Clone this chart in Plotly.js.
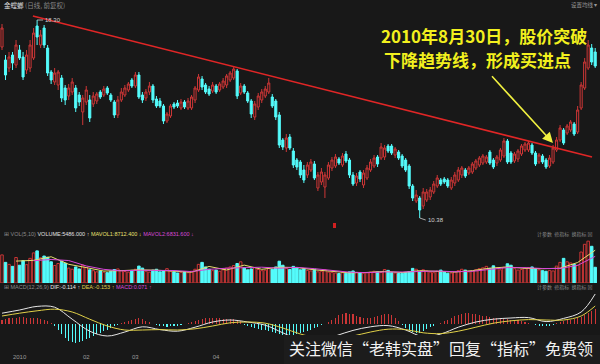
<!DOCTYPE html>
<html><head><meta charset="utf-8">
<script src="https://cdn.plot.ly/plotly-3.0.1.min.js"></script>
<style>html,body{margin:0;padding:0;background:#181818;}#chart{width:600px;height:364px;}</style>
</head><body><div id="chart"></div>
<script>
const openP = [17.22,16.70,16.38,16.90,16.50,17.10,16.82,16.30,16.38,16.78,
18.06,17.30,17.98,17.18,16.22,15.82,15.70,15.98,15.58,15.26,
15.42,15.58,15.30,14.62,15.02,15.10,14.94,15.06,15.42,15.30,
15.58,15.30,15.02,14.50,15.10,15.30,15.50,15.90,15.66,16.10,
15.30,15.18,15.42,15.66,15.14,15.06,14.86,14.26,14.46,14.94,
14.98,14.78,15.02,14.78,14.78,15.10,15.50,15.94,15.70,15.54,
15.46,15.66,15.50,15.62,15.70,15.90,15.98,16.26,15.38,15.66,
15.38,15.06,14.42,14.82,15.10,15.26,15.42,15.22,15.06,14.50,
13.50,13.18,13.62,13.06,12.70,12.62,12.30,12.10,12.30,12.54,
11.58,11.82,11.62,11.98,12.38,12.46,12.74,12.50,12.94,12.70,
12.10,11.78,12.22,11.70,11.98,12.30,12.46,12.82,12.78,12.82,
13.26,13.26,12.90,13.02,12.86,12.70,12.46,11.66,11.06,11.18,
10.86,11.10,11.22,11.42,11.66,11.90,11.94,11.90,11.58,11.78,
11.90,12.10,12.30,12.18,12.22,12.38,12.50,12.58,12.62,13.02,
12.70,12.58,12.70,12.86,13.46,12.98,12.66,12.74,12.94,13.10,
13.10,13.30,12.98,12.62,12.86,12.70,12.46,12.62,13.10,13.50,
13.90,13.78,13.90,14.14,13.82,14.78,15.58,16.38,17.18,17.02];
const highP = [18.14,16.90,17.02,17.02,17.50,17.30,17.02,17.10,17.50,17.98,
18.30,17.90,18.10,17.30,16.30,16.38,16.30,16.10,15.70,15.74,
15.98,15.70,15.42,15.30,15.66,15.30,15.42,15.42,15.50,15.66,
15.66,15.38,15.10,15.26,15.58,15.70,15.82,15.98,16.22,16.22,
15.42,15.54,15.82,15.74,15.26,15.18,14.94,14.62,14.94,15.02,
15.10,15.14,15.10,15.18,15.30,15.66,16.14,16.06,15.78,15.66,
15.82,15.74,15.82,15.98,16.14,16.26,16.46,16.34,15.78,15.74,
15.46,15.14,15.06,15.38,15.54,15.66,15.98,15.34,15.14,14.62,
13.58,13.74,13.74,13.18,12.78,12.70,12.50,12.62,12.74,12.66,
12.22,12.38,12.22,12.62,12.82,12.94,12.82,12.98,13.06,12.78,
12.22,12.18,12.30,12.30,12.50,12.74,12.90,12.90,13.38,13.30,
13.34,13.34,13.22,13.10,12.94,12.78,12.54,11.74,11.50,11.26,
11.58,11.54,11.62,11.86,12.10,11.98,12.02,11.98,12.02,12.22,
12.42,12.46,12.38,12.46,12.62,12.74,12.86,12.94,12.90,13.10,
12.78,12.90,13.18,13.58,13.54,13.06,13.02,13.14,13.34,13.42,
13.46,13.38,13.06,12.98,12.94,12.78,12.90,13.30,13.62,14.10,
13.98,14.14,14.30,14.22,14.86,15.82,16.78,17.50,17.34,17.18];
const lowP = [17.10,15.90,16.22,16.30,16.38,16.70,15.90,16.14,16.22,16.70,
17.30,17.18,17.18,16.06,15.74,15.70,15.50,15.02,14.90,15.10,
15.30,14.62,14.86,14.10,14.90,14.22,14.82,14.94,15.14,15.22,
15.30,15.02,14.38,14.38,15.02,15.22,15.42,15.58,15.58,15.14,
14.98,15.06,15.30,14.98,14.78,14.78,14.14,14.18,14.38,14.74,
14.78,14.70,14.74,14.70,14.70,14.98,15.42,15.50,15.34,15.26,
15.38,15.34,15.42,15.54,15.58,15.82,15.90,15.14,15.30,15.34,
14.98,14.38,14.30,14.70,14.98,15.18,15.34,14.78,14.30,13.18,
13.10,13.02,13.10,12.38,12.30,11.98,11.78,11.98,12.22,11.90,
11.46,11.70,11.18,11.90,12.26,12.38,12.50,12.42,12.58,11.98,
11.66,11.66,11.82,11.58,11.90,12.22,12.38,12.42,12.70,12.70,
12.98,12.90,12.78,12.70,12.38,12.22,11.54,11.06,10.98,10.38,
10.74,11.02,11.10,11.34,11.58,11.66,11.74,11.58,11.50,11.66,
11.82,11.98,11.98,12.10,12.14,12.30,12.42,12.50,12.54,12.50,
12.34,12.46,12.62,12.78,12.54,12.54,12.58,12.62,12.86,13.02,
13.02,12.90,12.46,12.54,12.54,12.34,12.38,12.54,13.02,13.42,
13.30,13.70,13.82,13.66,13.74,14.70,15.50,16.30,16.50,16.38];
const closeP = [17.98,16.10,16.82,16.58,17.30,16.78,16.02,16.90,17.30,17.78,
17.62,17.70,17.30,16.18,15.90,16.18,16.22,15.18,15.10,15.58,
15.82,14.78,15.02,15.18,15.50,14.38,15.26,15.34,15.22,15.54,
15.38,15.10,14.50,15.10,15.42,15.58,15.74,15.66,16.10,15.22,
15.10,15.42,15.66,15.10,14.86,14.86,14.26,14.54,14.86,14.82,
14.86,15.02,14.82,15.06,15.22,15.58,16.02,15.62,15.42,15.34,
15.70,15.42,15.74,15.86,16.06,16.18,16.34,15.26,15.66,15.42,
15.06,14.54,14.94,15.26,15.42,15.54,15.78,14.86,14.42,13.30,
13.22,13.58,13.18,12.50,12.42,12.10,11.90,12.50,12.62,11.98,
12.10,12.22,12.10,12.50,12.70,12.82,12.58,12.86,12.66,12.10,
11.74,12.06,11.94,12.18,12.38,12.62,12.78,12.54,13.22,13.18,
13.06,12.98,13.14,12.78,12.46,12.30,11.66,11.18,11.30,10.70,
11.42,11.42,11.50,11.74,11.98,11.74,11.82,11.66,11.90,12.10,
12.30,12.38,12.06,12.38,12.54,12.66,12.78,12.86,12.82,12.58,
12.42,12.82,13.10,13.46,12.62,12.62,12.94,13.06,13.26,13.34,
13.38,12.98,12.54,12.90,12.62,12.42,12.78,13.18,13.50,13.98,
13.38,14.06,14.22,13.74,14.70,15.70,16.62,17.30,16.62,16.46];
const volume = [9800,7200,6500,5800,8900,6200,7800,6400,8600,10500,
11200,8800,9400,9000,7400,6100,6800,7600,6900,5200,
4800,5600,4900,6200,5400,4600,4300,3900,4200,3800,
3600,4100,4700,4900,4300,4000,3800,4400,4800,5900,
5200,4100,3800,4500,4800,3900,4200,5000,4100,3900,
3500,3700,3900,3600,4100,4800,6500,7200,5600,4800,
4300,4500,4100,4600,5200,5600,6100,6800,7400,5300,
4600,4900,5400,4700,4300,4500,5100,4800,5600,7600,
6200,5100,4700,5800,5200,4600,5000,4400,4200,4800,
3900,4100,4600,3800,3700,3500,3300,3600,3400,3900,
4200,3700,3500,3400,3600,3800,4100,3900,3700,4700,
4400,3600,3500,3300,3400,3700,4000,5100,4800,3900,
4600,4200,3800,3600,4100,4500,3800,3400,3500,3900,
4300,4800,4500,3900,4100,4600,5000,5300,5800,5100,
6000,5200,4600,5500,6700,6200,5000,4500,4700,5200,
5400,5600,5000,4600,4300,4100,4400,4200,5900,7200,
8600,7400,7000,6500,6200,10800,13500,14600,12800,5486];
const volMa5Idx = [4,9,14,19,24,29,34,39,44,49,54,59,64,69,74,79,84,89,94,99,104,109,114,119,124,129,134,139,144,149,154,159,164,169];
const volMa5 = [7640,7900,9160,6520,5380,4160,4320,4580,4480,4220,3760,5780,4540,6240,4780,5520,5400,4600,4020,3540,3680,4040,3640,4300,4060,3820,4320,5160,5600,5120,4980,5160,7140,11437];
const volMa10Idx = [9,14,19,24,29,34,39,44,49,54,59,64,69,74,79,84,89,94,99,104,109,114,119,124,129,134,139,144,149,154,159,164,169];
const volMa10 = [7770,8200,7840,5950,4770,4240,4450,4530,4350,3990,4770,5160,5390,5510,5150,5460,5000,4310,3780,3610,3860,3840,3970,4180,3940,4070,4740,5380,5360,5050,5070,6150,9290];
const macdHist = [0.10,0.12,0.14,0.15,0.16,0.17,0.17,0.16,0.16,0.15,0.14,0.12,0.10,0.08,0.03,
-0.05,-0.15,-0.25,-0.35,-0.42,-0.46,-0.47,-0.45,-0.42,-0.38,-0.34,-0.30,-0.26,-0.22,-0.18,-0.14,-0.10,-0.06,-0.03,
0.02,0.05,0.08,0.11,0.13,0.14,0.12,0.08,
0.04,0.01,-0.02,-0.04,-0.06,-0.07,-0.06,-0.05,-0.04,-0.02,0.00,0.02,
0.05,0.08,0.11,0.13,0.14,0.15,0.15,0.14,0.14,0.13,0.13,0.12,0.12,0.10,0.07,
-0.02,-0.05,-0.08,-0.10,-0.12,-0.14,-0.15,-0.17,-0.20,-0.23,-0.25,-0.27,-0.28,-0.28,-0.27,-0.25,-0.23,-0.21,-0.18,-0.15,-0.11,-0.07,-0.03,0.00,
0.04,0.10,0.16,0.22,0.26,0.27,0.26,0.24,0.21,0.18,0.16,0.15,0.15,0.17,0.20,0.23,0.25,0.26,0.22,0.15,0.07,
-0.03,-0.09,-0.15,-0.20,-0.23,-0.22,-0.18,-0.13,-0.08,-0.04,-0.01,
0.03,0.07,0.11,0.15,0.19,0.22,0.25,0.27,0.27,0.26,0.24,0.22,0.21,0.19,0.18,0.16,0.15,0.14,0.13,0.12,0.11,0.10,0.09,0.07,0.05,0.03,
0.00,-0.02,-0.04,-0.05,-0.05,-0.04,-0.02,
0.02,0.05,0.08,0.10,0.11,0.12,0.14,0.17,0.22,0.28,0.33,0.38];
const macdLineIdx = [0,5,10,15,20,25,30,35,40,45,50,55,60,65,70,75,80,85,90,95,100,105,110,115,120,125,130,135,140,145,150,155,160,165,169];
const difVals = [0.27,0.35,0.44,0.42,0.12,-0.18,-0.30,-0.20,-0.07,-0.14,-0.18,-0.08,0.05,0.10,0.05,-0.03,-0.22,-0.40,-0.45,-0.30,-0.16,-0.07,-0.04,-0.15,-0.32,-0.25,-0.08,0.05,0.12,0.15,0.16,0.06,0.14,0.30,0.75];
const deaVals = [0.20,0.27,0.33,0.37,0.30,0.12,-0.05,-0.15,-0.15,-0.14,-0.15,-0.12,-0.05,0.03,0.05,0.02,-0.10,-0.25,-0.35,-0.37,-0.30,-0.20,-0.13,-0.14,-0.22,-0.24,-0.18,-0.08,0.02,0.08,0.11,0.10,0.10,0.20,0.45];
const trendIdx = [8.8, 168.1];
const trendPrice = [18.46, 12.82];
const tickIdx = [5, 24, 38, 61];
const tickText = ['2010', '02', '03', '04'];

const BG = '#181818', RED = '#cc3636', CYAN = '#54fcfc';
const idx = openP.map((_, i) => i);
const isUp = closeP.map((c, i) => c >= openP[i]);

const traces = [
  {type:'candlestick', x:idx, open:openP, high:highP, low:lowP, close:closeP, xaxis:'x', yaxis:'y',
   increasing:{line:{color:RED, width:1}, fillcolor:'rgba(0,0,0,0)'},
   decreasing:{line:{color:CYAN, width:1}, fillcolor:CYAN}, whiskerwidth:0, hoverinfo:'skip'},
  {type:'scatter', mode:'lines', x:trendIdx, y:trendPrice, xaxis:'x', yaxis:'y', line:{color:'#e02626', width:1.6}},
  {type:'bar', x:idx, y:volume, xaxis:'x', yaxis:'y2', width:0.72,
   marker:{color:isUp.map(u => u ? BG : CYAN), line:{color:isUp.map(u => u ? RED : CYAN), width:1}}},
  {type:'scatter', mode:'lines', x:volMa5Idx, y:volMa5, xaxis:'x', yaxis:'y2', line:{color:'#e8e070', width:1}},
  {type:'scatter', mode:'lines', x:volMa10Idx, y:volMa10, xaxis:'x', yaxis:'y2', line:{color:'#d848d8', width:1}},
  {type:'bar', x:idx, y:macdHist, xaxis:'x', yaxis:'y3', width:0.3,
   marker:{color:macdHist.map(v => v >= 0 ? RED : CYAN), line:{width:0}}},
  {type:'scatter', mode:'lines', x:macdLineIdx, y:difVals, xaxis:'x', yaxis:'y3', line:{color:'#e6e6e6', width:1, shape:'spline'}},
  {type:'scatter', mode:'lines', x:macdLineIdx, y:deaVals, xaxis:'x', yaxis:'y3', line:{color:'#e0d048', width:1, shape:'spline'}}
];

const H = 364, W = 600;
const py = p => 1 - p / H;
const px = p => p / W;
const small = 'Liberation Sans, Noto Sans CJK SC, sans-serif';
const cjk = 'Noto Sans CJK SC, sans-serif';

const layout = {
  width:W, height:H, margin:{l:0, r:0, t:0, b:0},
  paper_bgcolor:BG, plot_bgcolor:BG, showlegend:false, hovermode:false,
  boxgap:0.15, bargap:0,
  xaxis:{anchor:'y3', range:[-0.57, 170.37], rangeslider:{visible:false}, showgrid:false, zeroline:false,
         showline:false, tickmode:'array', tickvals:tickIdx, ticktext:tickText, ticks:'',
         tickfont:{size:6, color:'#9a9a9a', family:small}, fixedrange:true},
  yaxis:{domain:[py(225), py(10)], range:[10.1, 18.7], visible:false, fixedrange:true},
  yaxis2:{domain:[py(283), py(240)], range:[0, 15000], visible:false, fixedrange:true},
  yaxis3:{domain:[py(352), py(292)], range:[-0.7, 0.8], visible:false, fixedrange:true},
  shapes:[
    {type:'rect', xref:'paper', yref:'paper', x0:px(333), x1:px(336), y0:py(228), y1:py(223), fillcolor:'#d02020', line:{width:0}},
    {type:'rect', xref:'paper', yref:'paper', x0:px(284), x1:1, y0:0, y1:py(335), fillcolor:'#1c1c1c', line:{width:0}, layer:'above'}
  ],
  annotations:[
    {xref:'paper', yref:'paper', x:px(2), y:py(5), xanchor:'left', yanchor:'middle', showarrow:false,
     text:"金螳螂 <span style='color:#8a8a8a'>(日线, 前复权)</span>", font:{size:6.5, color:'#e0e0e0', family:cjk}},
    {xref:'paper', yref:'paper', x:px(569), y:py(5), xanchor:'left', yanchor:'middle', showarrow:false,
     text:"设置均线 ▾", font:{size:5.5, color:'#9a9a9a', family:cjk}},
    {xref:'paper', yref:'paper', x:px(380), y:py(35.2), xanchor:'left', yanchor:'middle', showarrow:false, borderpad:0,
     text:"<b>2010年8月30日，股价突破</b>", font:{size:17, color:'#f2f01e', family:cjk}},
    {xref:'paper', yref:'paper', x:px(383), y:py(60), xanchor:'left', yanchor:'middle', showarrow:false, borderpad:0,
     text:"<b>下降趋势线，形成买进点</b>", font:{size:17, color:'#f2f01e', family:cjk}},
    {xref:'paper', yref:'paper', x:px(553), y:py(143), ax:-64, ay:-70, text:' ', showarrow:true,
     arrowhead:2, arrowsize:1.3, arrowwidth:1.6, arrowcolor:'#f0f040'},
    {xref:'x', yref:'y', x:10, y:18.30, ax:6, ay:0, showarrow:true, arrowhead:0, arrowwidth:0.8, arrowcolor:'#d0d0d0',
     text:'18.30', xanchor:'left', font:{size:6, color:'#d0d0d0', family:small}},
    {xref:'x', yref:'y', x:119, y:10.38, ax:6, ay:2, showarrow:true, arrowhead:0, arrowwidth:0.8, arrowcolor:'#d0d0d0',
     text:'10.38', xanchor:'left', font:{size:6, color:'#d0d0d0', family:small}},
    {xref:'paper', yref:'paper', x:px(2), y:py(234), xanchor:'left', yanchor:'middle', showarrow:false,
     text:"<span style='color:#8a8a8a'>⊞ VOL(5,10)</span> <span style='color:#e0e0e0'>VOLUME:5486.000 ↑</span> <span style='color:#e8e070'>MAVOL1:8712.400 ↓</span> <span style='color:#d848d8'>MAVOL2:6831.600 ↓</span>",
     font:{size:5.5, color:'#e0e0e0', family:small}},
    {xref:'paper', yref:'paper', x:px(2), y:py(287), xanchor:'left', yanchor:'middle', showarrow:false,
     text:"<span style='color:#8a8a8a'>⊞ MACD(12,26,9)</span> <span style='color:#e6e6e6'>DIF:-0.114 ↑</span> <span style='color:#e0d048'>DEA:-0.153 ↑</span> <span style='color:#d848d8'>MACD:0.071 ↑</span>",
     font:{size:5.5, color:'#e0e0e0', family:small}},
    {xref:'paper', yref:'paper', x:px(535), y:py(234), xanchor:'left', yanchor:'middle', showarrow:false,
     text:"计参数  修指标  换指标 ⊠", font:{size:5, color:'#8a8a8a', family:cjk}},
    {xref:'paper', yref:'paper', x:px(535), y:py(287), xanchor:'left', yanchor:'middle', showarrow:false,
     text:"计参数  修指标  换指标 ⊠", font:{size:5, color:'#8a8a8a', family:cjk}},
    {xref:'paper', yref:'paper', x:px(287), y:py(348), xanchor:'left', yanchor:'middle', showarrow:false,
     text:"关注微信“老韩实盘”回复“指标”免费领", font:{size:16, color:'#f2f2f2', family:cjk}}
  ]
};

Plotly.newPlot('chart', traces, layout, {staticPlot:true, displayModeBar:false});
</script>
</body></html>
